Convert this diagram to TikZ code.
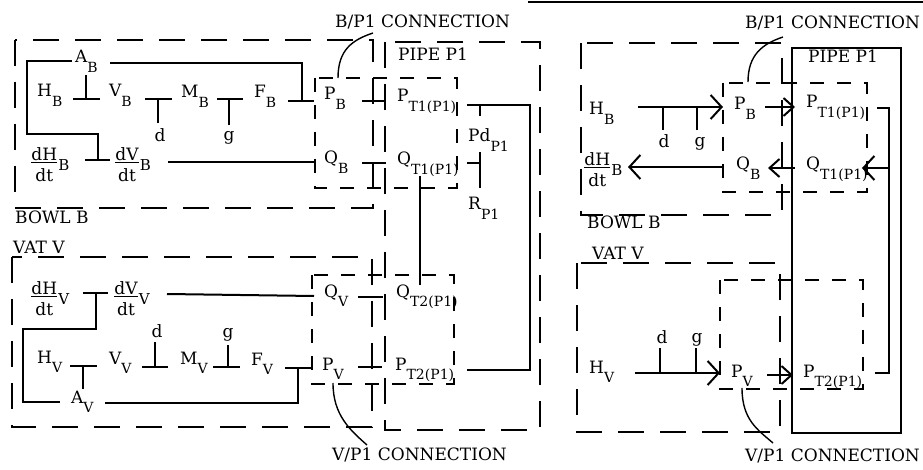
\documentclass[tikz,border=0pt]{standalone}
\usepackage{amsmath}
\usepackage{fontspec}
\setmainfont{DejaVu Serif}
\usetikzlibrary{arrows.meta}
\newcommand\lsub[1]{\raisebox{-9.5pt}{\fontsize{14}{15}\selectfont #1}}
\newcommand\dfr[3]{$\genfrac{}{}{1.2pt}{1}{\textstyle\mathrm{#1}}{\rule{0pt}{17.5pt}\textstyle\mathrm{#2}}$\raisebox{-3.5pt}{\fontsize{15}{15}\selectfont #3}}
\begin{document}
\begin{tikzpicture}[x=1pt,y=-1pt,
  lbl/.style={inner sep=0pt,anchor=base west,font=\fontsize{17}{20}\selectfont},
  lblc/.style={inner sep=0pt,anchor=base,font=\fontsize{17}{20}\selectfont},
  conn/.style={line width=2pt},
  longdash/.style={line width=1.6pt,dash pattern=on 26pt off 16pt},
  shortdash/.style={line width=1.6pt,dash pattern=on 14pt off 13pt},
  solidbox/.style={line width=1.6pt},
  arr/.style={conn,-{Straight Barb[length=11pt,width=24pt,line width=2pt]}},
  sarr/.style={conn,-{Straight Barb[length=10pt,width=18pt,line width=2pt]}}]
\useasboundingbox (0,0) rectangle (923,470);
\fill[white] (0,0) rectangle (923,470);
% scan edge line
\coordinate (e1) at (528,2); \coordinate (e2) at (923,2);
\draw[line width=1.4pt] (e1) -- (e2);

%%%%%%%%%%%%%%%% LEFT PANEL %%%%%%%%%%%%%%%%
\draw[longdash] (15,40) rectangle (373,208);
\draw[longdash] (385,42) rectangle (540,430);
\draw[longdash] (12,257) rectangle (372,427);
\draw[shortdash] (315,78) rectangle (457,188);
\draw[shortdash] (312,275) rectangle (454,384);

% labels bowl
\node[lbl] (AB) at (75,63) {A\lsub{B}};
\node[lbl] (HB) at (37,97) {H\lsub{B}};
\node[lbl] (VB) at (109,97) {V\lsub{B}};
\node[lbl] (MB) at (181,98) {M\lsub{B}};
\node[lbl] (FB) at (254,98) {F\lsub{B}};
\node[lblc] (dB) at (160,142) {d};
\node[lblc] (gB) at (229,141) {g};
\node[lbl] (dHB) at (30,167) {\dfr{dH}{dt}{B}};
\node[lbl] (dVB) at (114,167) {\dfr{dV}{dt}{B}};
\node[lbl] (bowlL) at (15,224) {BOWL B};
\node[lbl] (PB) at (324,100) {P\lsub{B}};
\node[lbl] (QB) at (324,164) {Q\lsub{B}};
\node[lbl] (PT1) at (397,102) {P\lsub{T1(P1)}};
\node[lbl] (QT1) at (397,165) {Q\lsub{T1(P1)}};
\node[lbl] (Pd) at (468,142) {Pd\lsub{P1}};
\node[lbl] (RP) at (468,210) {R\lsub{P1}};
\node[lbl] (pipeL) at (398,61) {PIPE P1};
\node[lbl] (bpLlab) at (335,28) {B/P1 CONNECTION};

% coordinates bowl
\coordinate (a1) at (110,63); \coordinate (a2) at (302,63); \coordinate (a3) at (302,101);
\coordinate (f1) at (288,101); \coordinate (f2) at (314,101);
\coordinate (p1) at (362,101); \coordinate (p2) at (386,101);
\coordinate (b1) at (72,61); \coordinate (b2) at (27,61); \coordinate (b3) at (27,134);
\coordinate (b4) at (98,134); \coordinate (b5) at (98,160);
\coordinate (h1) at (85,160); \coordinate (h2) at (110,160);
\coordinate (t1) at (86,75); \coordinate (t2) at (86,99);
\coordinate (hv1) at (73,99); \coordinate (hv2) at (100,99);
\coordinate (vm1) at (145,99); \coordinate (vm2) at (172,99); \coordinate (vmd) at (158,99); \coordinate (vmd2) at (158,123);
\coordinate (mf1) at (217,99); \coordinate (mf2) at (243,99); \coordinate (mfg) at (229,99); \coordinate (mfg2) at (229,125);
\coordinate (dv1) at (168,162); \coordinate (dv2) at (314,162);
\coordinate (q1) at (362,163); \coordinate (q2) at (386,163);
\coordinate (r1) at (467,105); \coordinate (r2) at (530,105); \coordinate (r3) at (530,370); \coordinate (r4) at (467,370);
\coordinate (pd1) at (480,105); \coordinate (pd2) at (480,116);
\coordinate (pr1) at (480,152); \coordinate (pr2) at (480,188); \coordinate (qs1) at (467,163); \coordinate (qs2) at (480,163);
\coordinate (qq1) at (420,176); \coordinate (qq2) at (420,285);
\coordinate (cb1) at (338,78); \coordinate (cb2) at (373,33);

\draw[conn] (a1) -- (a2) -- (a3);
\draw[conn] (f1) -- (f2);
\draw[conn] (p1) -- (p2);
\draw[conn] (b1) -- (b2) -- (b3) -- (b4) -- (b5);
\draw[conn] (h1) -- (h2);
\draw[conn] (t1) -- (t2);
\draw[conn] (hv1) -- (hv2);
\draw[conn] (vm1) -- (vm2); \draw[conn] (vmd) -- (vmd2);
\draw[conn] (mf1) -- (mf2); \draw[conn] (mfg) -- (mfg2);
\draw[conn] (dv1) -- (dv2);
\draw[conn] (q1) -- (q2);
\draw[conn] (r1) -- (r2) -- (r3) -- (r4);
\draw[conn] (pd1) -- (pd2);
\draw[conn] (pr1) -- (pr2); \draw[conn] (qs1) -- (qs2);
\draw[conn] (qq1) -- (qq2);
\draw[line width=1.4pt] (cb1) .. controls (338,50) and (352,40) .. (cb2);

% labels vat
\node[lbl] (vatL) at (13,254) {VAT V};
\node[lbl] (dHV) at (30,301) {\dfr{dH}{dt}{V}};
\node[lbl] (dVV) at (113,301) {\dfr{dV}{dt}{V}};
\node[lbl] (HV) at (37,363) {H\lsub{V}};
\node[lbl] (VV) at (109,364) {V\lsub{V}};
\node[lbl] (MV) at (180,364) {M\lsub{V}};
\node[lbl] (FV) at (251,365) {F\lsub{V}};
\node[lbl] (AV) at (71,403) {A\lsub{V}};
\node[lblc] (dV) at (157,337) {d};
\node[lblc] (gV) at (228,337) {g};
\node[lbl] (QV) at (324,297) {Q\lsub{V}};
\node[lbl] (PV) at (322,370) {P\lsub{V}};
\node[lbl] (QT2) at (396,297) {Q\lsub{T2(P1)}};
\node[lbl] (PT2) at (395,370) {P\lsub{T2(P1)}};
\node[lbl] (vpLlab) at (332,460) {V/P1 CONNECTION};

\coordinate (v1) at (83,293); \coordinate (v2) at (108,293);
\coordinate (w1) at (96,293); \coordinate (w2) at (96,329); \coordinate (w3) at (23,329); \coordinate (w4) at (23,402); \coordinate (w5) at (60,402);
\coordinate (x1) at (167,294); \coordinate (x2) at (314,296);
\coordinate (y1) at (358,297); \coordinate (y2) at (383,297);
\coordinate (z1) at (70,366); \coordinate (z2) at (97,366); \coordinate (z3) at (83,366); \coordinate (z4) at (83,389);
\coordinate (k1) at (105,403); \coordinate (k2) at (298,403); \coordinate (k3) at (298,368);
\coordinate (k4) at (285,368); \coordinate (k5) at (312,368);
\coordinate (m1) at (142,367); \coordinate (m2) at (168,367); \coordinate (m3) at (155,367); \coordinate (m4) at (155,342);
\coordinate (n1) at (213,367); \coordinate (n2) at (240,367); \coordinate (n3) at (228,367); \coordinate (n4) at (228,345);
\coordinate (o1) at (358,367); \coordinate (o2) at (382,367);
\coordinate (cv1) at (333,383); \coordinate (cv2) at (367,445);

\draw[conn] (v1) -- (v2);
\draw[conn] (w1) -- (w2) -- (w3) -- (w4) -- (w5);
\draw[conn] (x1) -- (x2);
\draw[conn] (y1) -- (y2);
\draw[conn] (z1) -- (z2); \draw[conn] (z3) -- (z4);
\draw[conn] (k1) -- (k2) -- (k3); \draw[conn] (k4) -- (k5);
\draw[conn] (m1) -- (m2); \draw[conn] (m3) -- (m4);
\draw[conn] (n1) -- (n2); \draw[conn] (n3) -- (n4);
\draw[conn] (o1) -- (o2);
\draw[line width=1.4pt] (cv1) .. controls (333,415) and (350,430) .. (cv2);

%%%%%%%%%%%%%%%% RIGHT PANEL %%%%%%%%%%%%%%%%
\draw[longdash] (581,43) rectangle (782,215);
\draw[longdash] (577,263) rectangle (780,432);
\draw[solidbox] (792,48) rectangle (901,433);
\draw[shortdash] (723,83) rectangle (867,192);
\draw[shortdash] (720,280) rectangle (863,389);

\node[lbl] (bpRlab) at (745,29) {B/P1 CONNECTION};
\node[lbl] (pipeR) at (808,63) {PIPE P1};
\node[lbl] (HBR) at (589,115) {H\lsub{B}};
\node[lblc] (dR1) at (664,148) {d};
\node[lblc] (gR1) at (700,147) {g};
\node[lbl] (dHBR) at (583,172) {\dfr{dH}{dt}{B}};
\node[lbl] (bowlR) at (587,229) {BOWL B};
\node[lbl] (PBR) at (734,110) {P\lsub{B}};
\node[lbl] (QBR) at (736,170) {Q\lsub{B}};
\node[lbl] (PT1R) at (806,108) {P\lsub{T1(P1)}};
\node[lbl] (QT1R) at (806,170) {Q\lsub{T1(P1)}};
\node[lbl] (vatR) at (592,260) {VAT V};
\node[lbl] (HVR) at (589,373) {H\lsub{V}};
\node[lblc] (dR2) at (662,343) {d};
\node[lblc] (gR2) at (697,342) {g};
\node[lbl] (PVR) at (731,377) {P\lsub{V}};
\node[lbl] (PT2R) at (803,377) {P\lsub{T2(P1)}};
\node[lbl] (vpRlab) at (745,461) {V/P1 CONNECTION};

\coordinate (ra1) at (638,107); \coordinate (ra2) at (723,107);
\coordinate (rt1) at (663,107); \coordinate (rt2) at (663,130);
\coordinate (rt3) at (697,107); \coordinate (rt4) at (697,130);
\coordinate (rb1) at (765,107); \coordinate (rb2) at (795,107);
\coordinate (rc1) at (795,168); \coordinate (rc2) at (768,168);
\coordinate (rd1) at (723,167); \coordinate (rd2) at (628,167);
\coordinate (rl1) at (877,108); \coordinate (rl2) at (889,108); \coordinate (rl3) at (889,373); \coordinate (rl4) at (875,373);
\coordinate (rq1) at (889,168); \coordinate (rq2) at (862,168);
\coordinate (rv1) at (635,373); \coordinate (rv2) at (720,373);
\coordinate (ru1) at (660,373); \coordinate (ru2) at (660,348);
\coordinate (ru3) at (696,373); \coordinate (ru4) at (696,348);
\coordinate (rw1) at (767,375); \coordinate (rw2) at (793,375);
\coordinate (rcb1) at (748,82); \coordinate (rcb2) at (783,37);
\coordinate (rcv1) at (742,388); \coordinate (rcv2) at (773,443);

\draw[arr] (ra1) -- (ra2);
\draw[conn] (rt1) -- (rt2); \draw[conn] (rt3) -- (rt4);
\draw[sarr] (rb1) -- (rb2);
\draw[sarr] (rc1) -- (rc2);
\draw[arr] (rd1) -- (rd2);
\draw[conn] (rl1) -- (rl2) -- (rl3) -- (rl4);
\draw[arr] (rq1) -- (rq2);
\draw[arr] (rv1) -- (rv2);
\draw[conn] (ru1) -- (ru2); \draw[conn] (ru3) -- (ru4);
\draw[sarr] (rw1) -- (rw2);
\draw[line width=1.4pt] (rcb1) .. controls (748,55) and (762,44) .. (rcb2);
\draw[line width=1.4pt] (rcv1) .. controls (742,420) and (758,430) .. (rcv2);
\end{tikzpicture}
\end{document}
